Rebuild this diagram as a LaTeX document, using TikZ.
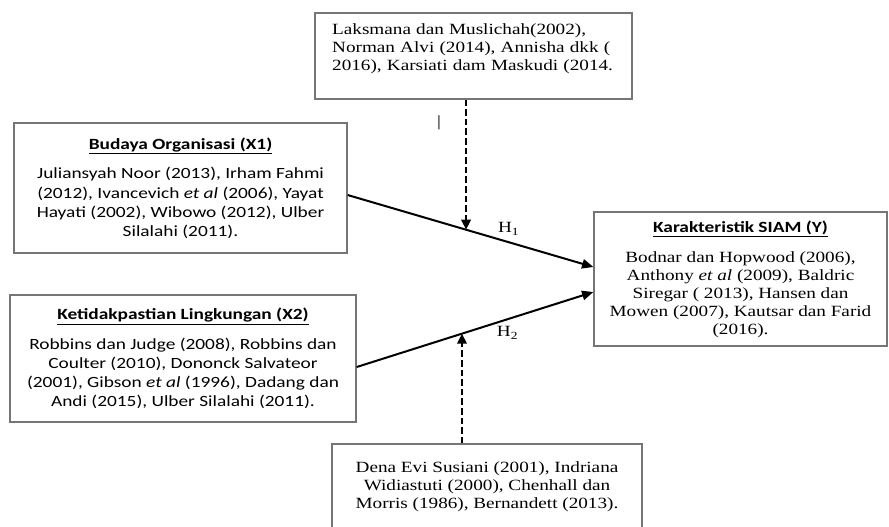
\documentclass[tikz,border=0pt]{standalone}
\usepackage{fontspec}
\setmainfont{Liberation Serif}[FakeStretch=1.23]
\newfontfamily\calibri{Carlito}[FakeStretch=1.24]
\usepackage{tikz}
\usetikzlibrary{arrows.meta, positioning, calc}
\definecolor{BoxGray}{RGB}{118,118,118}

\begin{document}
\begin{tikzpicture}[x=0.75pt,y=-0.75pt,
  refbox/.style={draw=BoxGray, line width=0.9pt, inner sep=0pt},
  timestext/.style={font=\fontsize{11.7}{13.5}\selectfont},
  caltext/.style={font=\calibri\fontsize{11.7}{14.3}\selectfont},
  effect/.style={-{Triangle[length=8.5pt,width=7pt]}, line width=1.5pt},
  moderasi/.style={-{Triangle[length=7.5pt,width=7pt]}, line width=2.1pt, dash pattern=on 5pt off 2.2pt},
  hlabel/.style={font=\fontsize{11.7}{13.5}\selectfont, inner sep=1.5pt}
]
  \path[use as bounding box] (0,0) rectangle (889,526);

  % literature boxes (moderating)
  \node[refbox, timestext, align=left, text width=212pt,
        minimum width=237.75pt, minimum height=64.5pt] (top) at (473.5,56) {
    Laksmana dan Muslichah(2002),\\
    Norman Alvi (2014), Annisha dkk (\\
    2016), Karsiati dam Maskudi (2014.\\
    \mbox{}
  };
  \node[refbox, timestext, align=center,
        minimum width=232.5pt, minimum height=64.5pt] (bottom) at (487,487) {
    Dena Evi Susiani (2001), Indriana\\
    Widiastuti (2000), Chenhall dan\\
    Morris (1986), Bernandett (2013).
  };

  % variables
  \node[refbox, caltext, align=center,
        minimum width=249.75pt, minimum height=97.5pt] (x1) at (180.5,188) {
    \textbf{\underline{Budaya Organisasi (X1)}}\\[8pt]
    Juliansyah Noor (2013), Irham Fahmi\\
    (2012), Ivancevich \textit{et al} (2006), Yayat\\
    Hayati (2002), Wibowo (2012), Ulber\\
    Silalahi (2011).
  };
  \node[refbox, caltext, align=center,
        minimum width=259.5pt, minimum height=95.25pt] (x2) at (183,358.5) {
    \textbf{\underline{Ketidakpastian Lingkungan (X2)}}\\[8pt]
    Robbins dan Judge (2008), Robbins dan\\
    Coulter (2010), Dononck Salvateor\\
    (2001), Gibson \textit{et al} (1996), Dadang dan\\
    Andi (2015), Ulber Silalahi (2011).
  };
  \node[refbox, timestext, align=center,
        minimum width=219.75pt, minimum height=100.5pt] (y) at (740.5,279) {
    {\calibri\bfseries\underline{Karakteristik SIAM (Y)}}\\[9pt]
    Bodnar dan Hopwood (2006),\\
    Anthony \textit{et al} (2009), Baldric\\
    Siregar ( 2013), Hansen dan\\
    Mowen (2007), Kautsar dan Farid\\
    (2016).
  };

  \node[timestext, inner sep=0pt] (bar) at (439,123) {|};

  % hypotheses
  \draw[effect] ([yshift=-5.25pt]x1.east) -- coordinate[pos=0.482] (h1)
    node[hlabel, pos=0.6, anchor=south west] {H\textsubscript{1}} ([yshift=9pt]y.west);
  \draw[effect] ([yshift=-6.4pt]x2.east) -- coordinate[pos=0.445] (h2)
    node[hlabel, pos=0.58, anchor=north west] {H\textsubscript{2}} ([yshift=-9.75pt]y.west);

  \draw[moderasi] (top.south -| h1) -- (h1);
  \draw[moderasi] (bottom.north -| h2) -- (h2);
\end{tikzpicture}
\end{document}
